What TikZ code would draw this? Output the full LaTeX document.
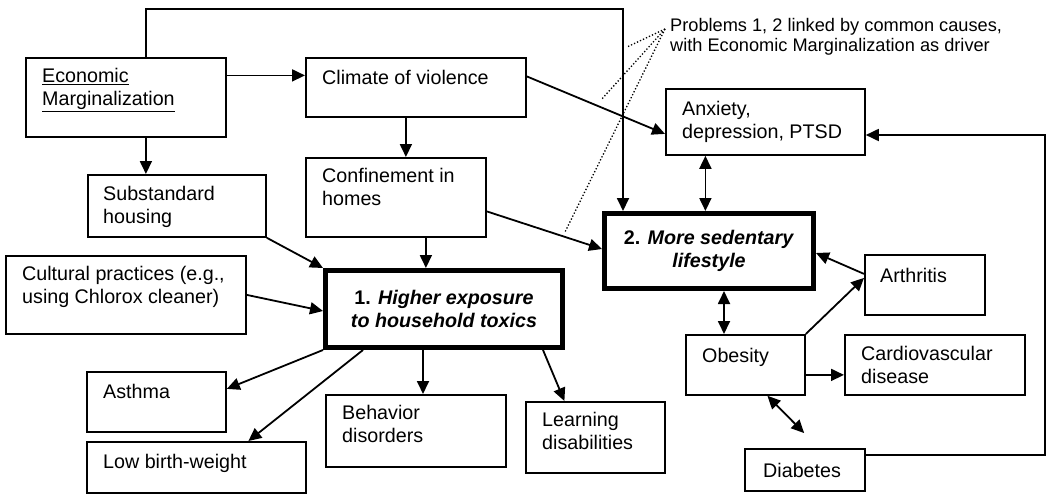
\documentclass[tikz,border=0pt]{standalone}
\usepackage{fontspec}
\setmainfont{Liberation Sans}
\usetikzlibrary{arrows.meta}
\newcommand\bodyfont{\fontsize{19.7}{23}\selectfont}
\newcommand\notefont{\fontsize{18.2}{20.5}\selectfont}
\tikzset{
  box/.style={draw, line width=1.8pt, anchor=north west, inner sep=0pt},
  bigbox/.style={box, line width=5pt, align=center, font=\bodyfont\bfseries},
  txt/.style={anchor=north west, inner sep=0pt, align=left, font=\bodyfont,
    execute at begin node=\strut},
  arr/.style={-{Triangle[length=13pt,width=12pt]}, line width=1.8pt},
  dblarr/.style={{Triangle[length=13pt,width=12pt]}-{Triangle[length=13pt,width=12pt]}, line width=1.8pt},
  link/.style={dotted, line width=1.3pt}
}
\begin{document}
\begin{tikzpicture}[x=1pt,y=-1pt]
\useasboundingbox (0,0) rectangle (1050,498);
% boxes
\node[box, minimum width=200pt, minimum height=79pt] (econ) at (25,57) {};
\node[box, minimum width=220pt, minimum height=59pt] (climate) at (305,57) {};
\node[box, minimum width=178pt, minimum height=62pt] (subst) at (87,174) {};
\node[box, minimum width=180pt, minimum height=79pt] (confine) at (305,157) {};
\node[box, minimum width=199pt, minimum height=66pt] (anxiety) at (665,88) {};
\node[box, minimum width=240pt, minimum height=78pt] (cultural) at (5,255) {};
\node[box, minimum width=139pt, minimum height=60pt] (asthma) at (86,371) {};
\node[box, minimum width=219pt, minimum height=51pt] (lowbw) at (86,441) {};
\node[box, minimum width=180pt, minimum height=72pt] (behavior) at (325,394) {};
\node[box, minimum width=139pt, minimum height=71pt] (learning) at (525,401) {};
\node[box, minimum width=120pt, minimum height=60pt] (arthritis) at (864,254) {};
\node[box, minimum width=119pt, minimum height=60pt] (obesity) at (685,334) {};
\node[box, minimum width=180pt, minimum height=60pt] (cardio) at (844,334) {};
\node[box, minimum width=120pt, minimum height=42pt] (diabetes) at (744,448) {};
\node[bigbox, minimum width=237pt, minimum height=77pt] (toxics) at (323,268)
  {1. \textit{Higher exposure}\\\textit{to household toxics}};
\node[bigbox, minimum width=209pt, minimum height=75pt] (sedentary) at (602,211)
  {2. \textit{More sedentary}\\\textit{lifestyle}};
% texts
\node[txt] (econ-t) at ([shift={(17,11)}]econ.north west)
  {\underline{Economic}\\\underline{Marginalization}};
\node[txt] (climate-t) at ([shift={(17,11)}]climate.north west) {Climate of violence};
\node[txt] (subst-t) at ([shift={(16,12)}]subst.north west) {Substandard\\housing};
\node[txt] (confine-t) at ([shift={(17,11)}]confine.north west) {Confinement in\\homes};
\node[txt] (anxiety-t) at ([shift={(17,13)}]anxiety.north west) {Anxiety,\\depression, PTSD};
\node[txt] (cultural-t) at ([shift={(17,11)}]cultural.north west)
  {Cultural practices (e.g.,\\using Chlorox cleaner)};
\node[txt] (asthma-t) at ([shift={(17,11)}]asthma.north west) {Asthma};
\node[txt] (lowbw-t) at ([shift={(17,11)}]lowbw.north west) {Low birth-weight};
\node[txt] (behavior-t) at ([shift={(17,11)}]behavior.north west) {Behavior\\disorders};
\node[txt] (learning-t) at ([shift={(17,11)}]learning.north west) {Learning\\disabilities};
\node[txt] (arthritis-t) at ([shift={(16,12)}]arthritis.north west) {Arthritis};
\node[txt] (obesity-t) at ([shift={(17,12)}]obesity.north west) {Obesity};
\node[txt] (cardio-t) at ([shift={(17,12)}]cardio.north west) {Cardiovascular\\disease};
\node[txt] (diabetes-t) at ([shift={(19,13)}]diabetes.north west) {Diabetes};
\node[txt, font=\notefont] (note) at (670,18)
  {Problems 1, 2 linked by common causes,\\with Economic Marginalization as driver};
% dotted links
\coordinate (apex) at (665,29);
\coordinate (d1) at (627,47);
\coordinate (d2) at (601,100);
\coordinate (d3) at (565,232);
\draw[link] (apex) -- (d1);
\draw[link] (apex) -- (d2);
\draw[link] (apex) -- (d3);
% arrows
\draw[arr] ([xshift=20pt]econ.north) -- ++(0,-48) -| ([xshift=-86pt]sedentary.north);
\draw[arr] ([yshift=22pt]econ.east) -- ([yshift=12pt]climate.west);
\draw[arr] ([xshift=20pt]econ.south) -- ([xshift=20pt]econ.south |- subst.north);
\draw[arr] ([xshift=-10pt]climate.south) -- ([xshift=-10pt]climate.south |- confine.north);
\draw[arr] ([yshift=11pt]climate.east) -- ([yshift=-12pt]anxiety.west);
\draw[arr] ([xshift=30pt]confine.south) -- ([xshift=30pt]confine.south |- toxics.north);
\draw[arr] ([yshift=-14pt]confine.east) -- ([yshift=2pt]sedentary.west);
\draw[arr] (subst.south east) -- (toxics.north west);
\draw[arr] (cultural.east) -- ([yshift=-2pt]toxics.west);
\draw[arr] (toxics.south west) -- ([yshift=13pt]asthma.east);
\draw[arr] ([xshift=-81pt]toxics.south) -- ([xshift=52pt]lowbw.north);
\draw[arr] ([xshift=-21pt]toxics.south) -- ([xshift=-21pt]toxics.south |- behavior.north);
\draw[arr] ([xshift=99pt]toxics.south) -- ([xshift=-31pt]learning.north);
\draw[dblarr] ([xshift=-60pt]anxiety.south) -- ([xshift=-60pt]anxiety.south |- sedentary.north);
\draw[dblarr] ([xshift=15pt]sedentary.south) -- ([xshift=15pt]sedentary.south |- obesity.north);
\draw[arr] ([yshift=11pt]arthritis.west) -- ([yshift=-2pt]sedentary.east);
\draw[arr] (obesity.north east) -- ([yshift=7pt]arthritis.west);
\draw[arr] ([yshift=-10pt]obesity.east) -- ([yshift=-10pt]obesity.east -| cardio.west);
\draw[dblarr, shorten >=21pt] ([xshift=22pt]obesity.south) -- ([xshift=14pt]diabetes.north);
\coordinate (turn) at (1045,135);
\draw[arr] ([yshift=15pt]diabetes.east) -| (turn) -- (turn -| anxiety.east);
\end{tikzpicture}
\end{document}
